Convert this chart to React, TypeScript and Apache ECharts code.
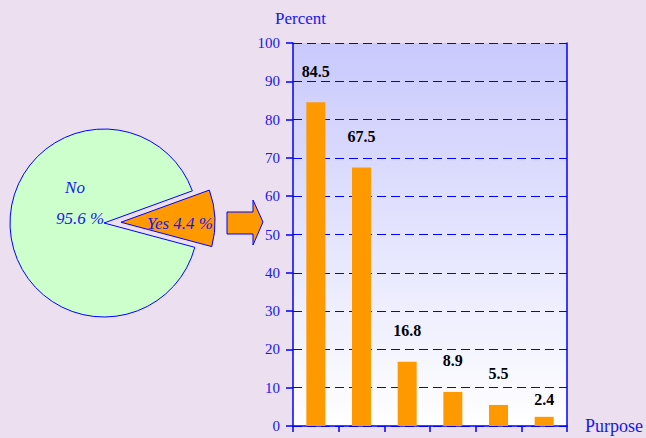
import React, { useEffect, useRef } from "react";
import * as echarts from "echarts";

const categories = ["1", "2", "3", "4", "5", "6"];
const percentValues = [84.5, 67.5, 16.8, 8.9, 5.5, 2.4];
const yTicks = { min: 0, max: 100, interval: 10 };
const pieNames = ["Yes", "No"];
const pieValues = [4.4, 95.6];
const yAxisTitle = "Percent";
const xAxisTitle = "Purpose";

const BLUE = "#0000ff";
const TEXT_BLUE = "#1818ee";
const ORANGE = "#ff9900";
const SERIF = "Liberation Serif";

export default function App() {
  const ref = useRef<HTMLDivElement>(null);
  useEffect(() => {
    if (!ref.current) return;
    const chart = echarts.init(ref.current, null, { renderer: "svg" });
    const pieText = (x: number, y: number, text: string) => ({
      type: "text",
      x,
      y,
      z: 100,
      style: {
        text,
        fill: TEXT_BLUE,
        fontFamily: SERIF,
        fontStyle: "italic",
        fontSize: 17,
        align: "center",
        verticalAlign: "middle",
      },
    });
    chart.setOption({
      animation: false,
      backgroundColor: "#ebdff0",
      grid: {
        left: 293,
        right: 75,
        top: 43,
        bottom: 12,
        show: true,
        borderWidth: 0,
        backgroundColor: new echarts.graphic.LinearGradient(0, 0, 0, 1, [
          { offset: 0, color: "#c9c9fd" },
          { offset: 1, color: "#ffffff" },
        ]),
      },
      xAxis: {
        type: "category",
        data: categories,
        axisLine: { lineStyle: { color: BLUE, width: 1.5 } },
        axisTick: { show: true, length: 6, lineStyle: { color: BLUE, width: 1.5 } },
        axisLabel: { show: false },
        name: xAxisTitle,
        nameLocation: "end",
        nameGap: 18,
        nameTextStyle: { color: TEXT_BLUE, fontFamily: SERIF, fontSize: 18, verticalAlign: "middle", padding: [4, 0, 0, 0] },
      },
      yAxis: [
        {
          type: "value",
          min: yTicks.min,
          max: yTicks.max,
          interval: yTicks.interval,
          axisLine: { show: true, lineStyle: { color: BLUE, width: 1.5 } },
          axisTick: { show: true, length: 7, lineStyle: { color: BLUE, width: 1.5 } },
          axisLabel: { color: TEXT_BLUE, fontFamily: SERIF, fontSize: 15, margin: 13 },
          splitLine: { show: true, lineStyle: { color: BLUE, width: 1.2, type: [9, 5] } },
        },
        {
          type: "value",
          position: "right",
          min: yTicks.min,
          max: yTicks.max,
          interval: yTicks.interval,
          axisLine: { show: true, lineStyle: { color: BLUE, width: 1.5 } },
          axisTick: { show: false },
          axisLabel: { show: false },
          splitLine: { show: false },
        },
      ],
      graphic: [
        {
          type: "text",
          x: 275,
          y: 18,
          z: 100,
          style: { text: yAxisTitle, fill: TEXT_BLUE, fontFamily: SERIF, fontSize: 17, verticalAlign: "middle" },
        },
        {
          type: "polygon",
          z: 100,
          shape: {
            points: [
              [227, 212],
              [253, 212],
              [253, 200],
              [263, 222],
              [253, 245],
              [253, 234],
              [227, 234],
            ],
          },
          style: { fill: ORANGE, stroke: BLUE, lineWidth: 1 },
        },
        pieText(75, 187, pieNames[1]),
        pieText(80, 218, `${pieValues[1]} %`),
        pieText(180, 223, `${pieNames[0]} ${pieValues[0]} %`),
      ],
      series: [
        {
          type: "bar",
          data: percentValues.map((v, i) =>
            i === percentValues.length - 1 ? { value: v, label: { distance: 9 } } : v
          ),
          barWidth: 19,
          itemStyle: { color: ORANGE },
          label: {
            show: true,
            position: "top",
            distance: 23,
            color: "#000",
            fontFamily: SERIF,
            fontWeight: "bold",
            fontSize: 16,
          },
          emphasis: { disabled: true },
        },
        {
          type: "pie",
          center: [104, 223],
          radius: 94,
          startAngle: 20,
          minAngle: 35,
          clockwise: true,
          selectedMode: "single",
          selectedOffset: 17,
          label: { show: false },
          labelLine: { show: false },
          emphasis: { disabled: true },
          itemStyle: { borderColor: BLUE, borderWidth: 1 },
          data: [
            { name: pieNames[0], value: pieValues[0], selected: true, itemStyle: { color: ORANGE } },
            { name: pieNames[1], value: pieValues[1], itemStyle: { color: "#ccffcc" } },
          ],
        },
      ],
    });
    return () => chart.dispose();
  }, []);
  return <div ref={ref} style={{ position: "fixed", left: 0, top: 0, width: 646, height: 438 }} />;
}
